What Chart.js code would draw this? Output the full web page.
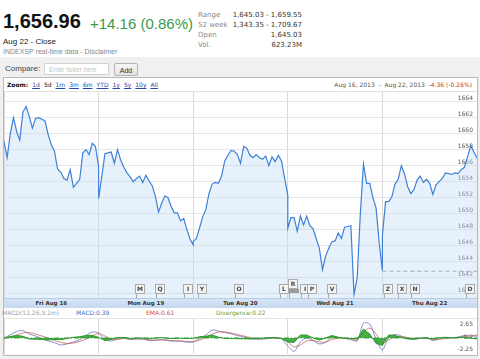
<!DOCTYPE html>
<html lang="en">
<head>
  <meta charset="UTF-8">
  <title>S&amp;P 500 - 5d</title>
  <script src="https://cdn.jsdelivr.net/npm/chart.js"></script>
  <style>
    body { margin: 0; width: 480px; height: 359px; overflow: hidden; background: #fff; position: relative; font-family: Arial, "Liberation Sans", sans-serif; }
    .abs { position: absolute; white-space: nowrap; }
    .small { font-family: "DejaVu Sans", Verdana, sans-serif; }
    #grayArea { left: 0; top: 57px; width: 480px; height: 302px; background: #f0f0f0; }
    #box { left: 3px; top: 77px; width: 473px; height: 277px; border: 1px solid #b9b9b9; background: #fff; }
    #stats div { height: 10px; line-height: 10px; }
    #zoomBar span { margin-right: 4px; }
    #zoomBar a { color: #2b47a8; text-decoration: underline; margin-right: 4px; }
    #dateBand { left: 4px; top: 298px; width: 473px; height: 10px; display: flex; background: linear-gradient(#d8e6f6, #c4d8ef); border-top: 1px solid #b7cde6; box-sizing: border-box; }
    #dateBand div { flex: 1; text-align: center; font: bold 5.5px "DejaVu Sans", sans-serif; line-height: 9px; color: #333; }
  </style>
</head>
<body>
  <div class="abs" style="left:3px;top:11px;font:bold 20px Arial;line-height:20px;color:#111;">1,656.96</div>
  <div class="abs" style="left:90px;top:15.5px;font:15px Arial;line-height:15px;color:#3a9a4a;">+14.16 (0.86%)</div>
  <div class="abs" style="left:3px;top:38px;font:8px Arial;line-height:8px;color:#222;">Aug 22 - Close</div>
  <div class="abs" style="left:3px;top:47.5px;font:7px Arial;line-height:7px;color:#888;">INDEXSP real-time data - Disclaimer</div>

  <div id="stats" class="abs small" style="left:198px;top:10px;width:104px;font-size:7px;">
    <div><span style="color:#888">Range</span><span style="float:right;color:#333">1,645.03 - 1,659.55</span></div>
    <div><span style="color:#888">52 week</span><span style="float:right;color:#333">1,343.35 - 1,709.67</span></div>
    <div><span style="color:#888">Open</span><span style="float:right;color:#333">1,645.03</span></div>
    <div><span style="color:#888">Vol.</span><span style="float:right;color:#333">623.23M</span></div>
  </div>

  <div id="grayArea" class="abs"></div>
  <div class="abs" style="left:5px;top:65px;font:8px Arial;line-height:8px;color:#444;">Compare:</div>
  <div class="abs" style="left:44px;top:62.5px;width:65px;height:12px;background:#fff;border:1px solid #d2d2d2;font:6.5px Arial;line-height:12px;color:#c4c4c4;padding-left:4px;box-sizing:border-box;">Enter ticker here</div>
  <div class="abs" style="left:114px;top:62.5px;width:24px;height:13px;background:linear-gradient(#f6f6f6,#e2e2e2);border:1px solid #b5b5b5;border-radius:2px;font:7px Arial;line-height:13px;color:#333;text-align:center;box-sizing:border-box;">Add</div>

  <div id="box" class="abs"></div>
  <div id="zoomBar" class="abs small" style="left:7px;top:81px;font-size:6px;line-height:8px;color:#111;">
    <span style="font-weight:bold">Zoom:</span><a>1d</a><span>5d</span><a>1m</a><a>3m</a><a>6m</a><a>YTD</a><a>1y</a><a>5y</a><a>10y</a><a>All</a>
  </div>
  <div class="abs small" style="right:8px;top:81px;font-size:6px;line-height:8px;color:#555;">Aug 16, 2013 &nbsp;-&nbsp; Aug 22, 2013 &nbsp;<span style="color:#c0392b">-4.36 (-0.26%)</span></div>
  <div class="abs" style="left:4px;top:91px;width:473px;height:1px;background:#e2e2e2;"></div>

  <canvas id="price" class="abs" style="left:4px;top:92px;" width="473" height="206"></canvas>
  <div id="dateBand" class="abs"></div>

  <div class="abs small" style="left:2px;top:309px;font-size:6px;line-height:8px;color:#a0a0a0;">MACD(12,26,9,2m)</div>
  <div class="abs small" style="left:76px;top:309px;font-size:6px;line-height:8px;color:#3f73c4;">MACD:0.39</div>
  <div class="abs small" style="left:146px;top:309px;font-size:6px;line-height:8px;color:#d0583a;">EMA:0.61</div>
  <div class="abs small" style="left:216px;top:309px;font-size:6px;line-height:8px;color:#5f9f3f;">Divergence:0.22</div>
  <div class="abs" style="left:4px;top:318px;width:473px;height:1px;background:#e4e4e4;"></div>
  <canvas id="macd" class="abs" style="left:4px;top:319px;" width="473" height="35"></canvas>

  <script>
    // trading days shown (5d view)
    const dayLabels = ['Fri Aug 16', 'Mon Aug 19', 'Tue Aug 20', 'Wed Aug 21', 'Thu Aug 22'];

    // intraday prices, open to close, evenly spaced through each session
    const aug16 = [1659.0, 1657.0, 1660.0, 1662.0, 1660.3, 1659.2, 1662.7, 1663.4, 1662.2, 1660.7, 1661.9, 1662.0, 1661.8, 1661.6, 1659.9, 1658.6, 1657.8, 1655.6, 1655.2, 1654.4, 1654.2, 1655.5, 1653.3, 1653.8, 1654.3, 1657.6, 1658.0, 1657.4, 1658.8, 1658.4, 1655.9];
    const aug19 = [1651.9, 1654.6, 1657.5, 1657.6, 1657.7, 1656.3, 1658.0, 1656.7, 1655.8, 1655.1, 1654.6, 1654.0, 1654.4, 1654.7, 1653.9, 1654.8, 1654.1, 1653.5, 1652.2, 1650.2, 1651.3, 1652.2, 1652.0, 1650.9, 1650.1, 1650.1, 1649.1, 1649.4, 1648.0, 1646.8, 1646.1];
    const aug20 = [1646.5, 1646.9, 1648.2, 1649.6, 1650.5, 1652.5, 1653.7, 1653.9, 1653.8, 1654.7, 1656.6, 1657.3, 1657.9, 1657.8, 1657.4, 1656.3, 1658.4, 1658.2, 1657.3, 1657.0, 1657.4, 1657.0, 1656.8, 1657.2, 1656.0, 1657.1, 1656.5, 1657.3, 1656.6, 1654.4, 1652.3];
    const aug21 = [1648.2, 1649.5, 1649.5, 1647.8, 1649.7, 1648.6, 1649.7, 1648.5, 1648.1, 1646.9, 1645.7, 1643.0, 1644.7, 1645.7, 1646.5, 1646.6, 1647.6, 1646.9, 1648.3, 1648.4, 1648.5, 1639.9, 1642.0, 1650.0, 1656.2, 1653.8, 1653.8, 1652.0, 1650.7, 1646.3, 1642.9];
    const aug22 = [1647.3, 1651.5, 1651.5, 1652.1, 1653.7, 1654.3, 1656.0, 1655.0, 1653.4, 1652.5, 1653.0, 1654.2, 1654.7, 1653.9, 1654.3, 1653.8, 1652.4, 1653.6, 1654.0, 1654.4, 1655.1, 1655.0, 1654.9, 1655.1, 1655.0, 1655.5, 1655.8, 1657.1, 1658.5, 1657.7, 1656.96];
    const prevClose = 1642.80;
    const priceTicks = [1640, 1642, 1644, 1646, 1648, 1650, 1652, 1654, 1656, 1658, 1660, 1662, 1664];

    // news flags: letter, time (in days from Aug 16 open), raised
    const flagLetters = ['M', 'Q', 'I', 'Y', 'O', 'L', 'R', 'I', 'P', 'V', 'Z', 'X', 'N', 'D'];
    const flagTimes = [1.438, 1.649, 1.950, 2.088, 2.479, 2.960, 3.055, 3.187, 3.261, 3.472, 4.059, 4.207, 4.345, 4.926];
    const flagRaised = [0, 0, 0, 0, 0, 0, 1, 0, 0, 0, 0, 0, 0, 0];

    // MACD panel, 15 samples per day
    const macdLine = [0.0, 0.65, 1.3, 1.5, 0.8, 0.4, -0.1, -0.6, -0.95, -1.4, -1.2, -0.8, -0.35, 0.5, 1.2, 1.0, -0.3, -0.6, -0.2, 0.0, -0.3, -0.2, -0.2, -0.55, -0.45, -0.3, -0.55, -0.65, -0.65, -0.85, -0.8, -0.1, 0.6, 1.6, 1.4, 1.1, 0.85, 0.5, 0.2, -0.15, -0.25, -0.2, -0.05, 0.05, -0.2, -1.6, -2.7, -0.8, 0.0, -0.5, -1.2, -0.85, 0.2, 0.1, -0.1, -0.3, -0.6, 3.0, 2.8, -0.3, -2.4, 0.2, 0.7, 0.4, -0.1, -0.3, -0.1, 0.0, -0.5, -0.2, 0.05, 0.05, 0.2, 0.5, 0.4, 0.39];
    const emaLine = [0.1, 0.2, 0.6, 1.0, 1.1, 0.8, 0.4, 0.0, -0.5, -0.9, -1.1, -1.0, -0.7, -0.2, 0.4, 0.9, 0.4, -0.2, -0.3, -0.1, -0.2, -0.2, -0.2, -0.35, -0.45, -0.4, -0.45, -0.55, -0.6, -0.7, -0.75, -0.45, 0.1, 0.8, 1.2, 1.2, 1.0, 0.7, 0.4, 0.1, -0.1, -0.2, -0.1, 0.0, -0.1, -0.8, -1.8, -1.4, -0.6, -0.5, -0.8, -0.85, -0.3, -0.05, -0.05, -0.2, -0.4, 1.2, 2.0, 0.8, -0.9, -0.4, 0.2, 0.3, 0.1, -0.1, -0.1, -0.05, -0.3, -0.25, -0.1, 0.0, 0.1, 0.35, 0.4, 0.61];
    const divergence = [-0.05, 0.3, 0.5, 0.35, -0.2, -0.25, -0.3, -0.4, -0.3, -0.35, -0.1, 0.15, 0.25, 0.5, 0.55, 0.1, -0.5, -0.3, 0.1, 0.1, -0.1, 0, 0, -0.15, 0, 0.1, -0.1, -0.1, -0.05, -0.1, -0.05, 0.25, 0.35, 0.6, 0.15, -0.1, -0.1, -0.15, -0.15, -0.2, -0.1, 0, 0.05, 0.05, -0.1, -0.8, -0.9, 0.6, 0.6, 0, -0.4, 0, 0.5, 0.15, -0.05, -0.1, -0.2, 1.8, 0.8, -1.1, -1.5, 0.6, 0.5, 0.1, -0.2, -0.2, 0, 0.05, -0.2, 0.05, 0.15, 0.05, 0.1, 0.15, 0, -0.22];
    const macdTicks = [-2.25, 0.2, 2.65];
    const macdPerDay = 15;

    const band = document.getElementById('dateBand');
    dayLabels.forEach(d => {
      const el = document.createElement('div');
      el.textContent = d;
      band.appendChild(el);
    });

    const priceData = [aug16, aug19, aug20, aug21, aug22].flatMap((arr, d) =>
      arr.map((v, j) => ({ x: d + j / (arr.length - 1), y: v })));
    const toPts = arr => arr.map((v, k) => ({ x: k / macdPerDay, y: v }));

    const smallFont = { family: 'DejaVu Sans', size: 6 };

    const flagPlugin = {
      id: 'flags',
      afterDraw(chart) {
        const ctx = chart.ctx;
        const xs = chart.scales.x;
        const bottom = chart.chartArea.bottom;
        ctx.save();
        ctx.font = 'bold 6px "DejaVu Sans"';
        ctx.textAlign = 'center';
        ctx.textBaseline = 'middle';
        flagLetters.forEach((letter, i) => {
          const px = Math.round(xs.getPixelForValue(flagTimes[i]));
          const top = flagRaised[i] ? bottom - 19 : bottom - 14;
          ctx.strokeStyle = '#aaa';
          ctx.lineWidth = 1;
          ctx.beginPath();
          ctx.moveTo(px - 3.5, top + 9);
          ctx.lineTo(px - 3.5, bottom);
          ctx.stroke();
          if (flagRaised[i]) {
            ctx.fillStyle = '#9a9a9a';
            ctx.fillRect(px - 4, top + 10, 10, 4);
          }
          ctx.fillStyle = '#f3f3f3';
          ctx.fillRect(px - 4.5, top + 0.5, 9, 9);
          ctx.strokeRect(px - 4.5, top + 0.5, 9, 9);
          ctx.fillStyle = '#444';
          ctx.fillText(letter, px, top + 5.3);
        });
        ctx.restore();
      }
    };

    new Chart(document.getElementById('price'), {
      type: 'line',
      data: {
        datasets: [{
          data: priceData,
          borderColor: '#3f80d8',
          borderWidth: 1.2,
          backgroundColor: 'rgba(196,222,246,0.42)',
          fill: 'start',
          pointRadius: 0,
          tension: 0
        }, {
          data: [{ x: 4, y: prevClose }, { x: 5, y: prevClose }],
          borderColor: '#8a8a8a',
          borderWidth: 1,
          borderDash: [4, 3],
          pointRadius: 0,
          fill: false
        }]
      },
      options: {
        responsive: false,
        animation: false,
        events: [],
        layout: { padding: 0 },
        plugins: { legend: { display: false }, tooltip: { enabled: false } },
        scales: {
          x: {
            type: 'linear', min: 0, max: 5,
            ticks: { display: false, stepSize: 1 },
            grid: { color: '#d9d9d9', drawTicks: false },
            border: { display: false },
            afterFit: s => { s.height = 0; }
          },
          y: {
            position: 'right', min: 1639.46, max: 1665.21,
            afterBuildTicks: s => { s.ticks = priceTicks.map(v => ({ value: v })); },
            ticks: { mirror: true, padding: -4, labelOffset: -3, font: smallFont, color: '#555', callback: v => String(v) },
            grid: { color: '#e6e6e6', drawTicks: false },
            border: { display: false },
            afterFit: s => { s.width = 0; }
          }
        }
      },
      plugins: [flagPlugin]
    });

    new Chart(document.getElementById('macd'), {
      type: 'line',
      data: {
        datasets: [{
          data: toPts(divergence),
          borderColor: '#2f9a2f',
          borderWidth: 1,
          backgroundColor: 'rgba(40,160,40,0.85)',
          fill: 'origin',
          pointRadius: 0
        }, {
          data: [{ x: 0, y: 0 }, { x: 5, y: 0 }],
          borderColor: '#3aa03a',
          borderWidth: 1,
          borderDash: [5, 2, 1, 2],
          pointRadius: 0,
          fill: false
        }, {
          data: toPts(emaLine),
          borderColor: 'rgba(190,95,85,0.75)',
          borderWidth: 1,
          pointRadius: 0,
          fill: false,
          tension: 0.3
        }, {
          data: toPts(macdLine),
          borderColor: 'rgba(95,110,185,0.75)',
          borderWidth: 1,
          pointRadius: 0,
          fill: false,
          tension: 0.3
        }]
      },
      options: {
        responsive: false,
        animation: false,
        events: [],
        layout: { padding: 0 },
        plugins: { legend: { display: false }, tooltip: { enabled: false } },
        scales: {
          x: {
            type: 'linear', min: 0, max: 5,
            ticks: { display: false, stepSize: 1 },
            grid: { color: '#d9d9d9', drawTicks: false },
            border: { display: false },
            afterFit: s => { s.height = 0; }
          },
          y: {
            position: 'right', min: -3.23, max: 3.83,
            afterBuildTicks: s => { s.ticks = macdTicks.map(v => ({ value: v })); },
            ticks: { mirror: true, padding: -4, font: smallFont, color: '#555', callback: v => String(v) },
            grid: { display: false, drawTicks: false },
            border: { display: false },
            afterFit: s => { s.width = 0; }
          }
        }
      }
    });
  </script>
</body>
</html>
